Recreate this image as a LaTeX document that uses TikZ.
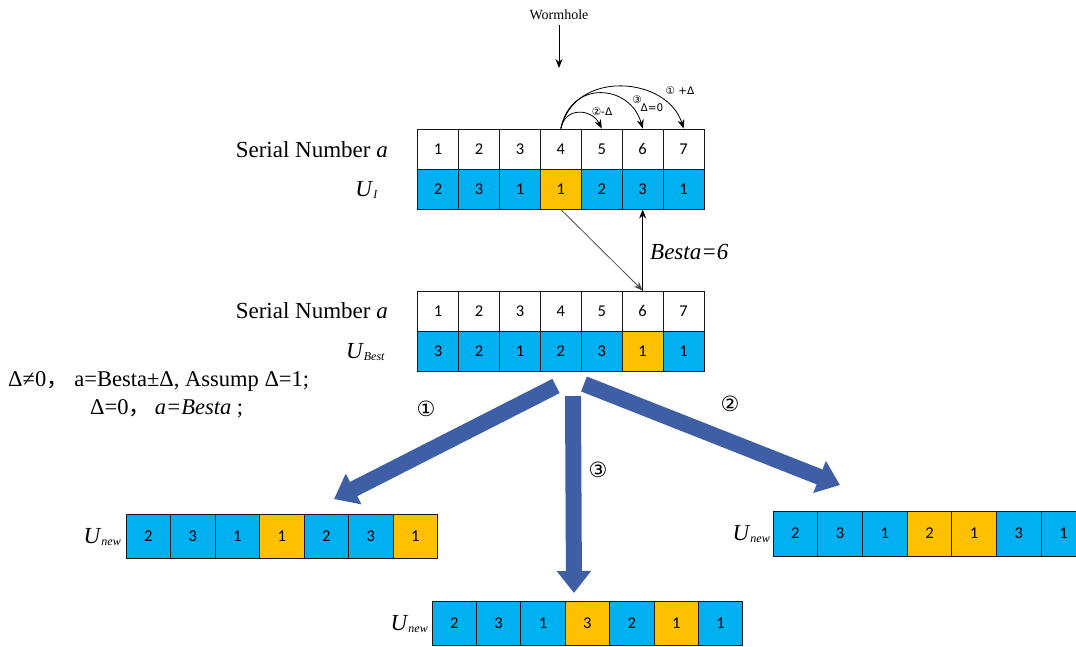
\documentclass[tikz,border=0pt]{standalone}
\usepackage{fontspec}
\setmainfont{Liberation Serif}
\newfontfamily\cellfont{Carlito}
\newfontfamily\symfont{DejaVu Sans}
\newfontfamily\cjkfont{Noto Sans CJK SC}
\usetikzlibrary{arrows.meta}
\definecolor{cellblue}{RGB}{0,176,240}
\definecolor{cellorange}{RGB}{255,192,0}
\definecolor{bigblue}{RGB}{62,95,165}
\newcommand\ulab[1]{\textit{U}\raisebox{-2pt}{\fontsize{12}{12}\selectfont\textit{#1}}}
\begin{document}
\begin{tikzpicture}[x=1pt,y=-1pt,
  cell/.style={draw=black!90, line width=0.9pt, inner sep=0pt,
    font=\cellfont\fontsize{16.5}{16.5}\selectfont},
  lab/.style={font=\fontsize{23}{25}\selectfont, inner sep=0pt},
  small/.style={font=\symfont\fontsize{10.5}{11}\selectfont, inner sep=0pt},
  circ/.style={font=\symfont\fontsize{21}{24}\selectfont, inner sep=0pt},
  thin/.style={line width=0.8pt, -{Stealth[length=9pt,width=7pt]}},
  big/.style={bigblue, line width=16pt, -{Triangle[length=22pt,width=33pt]}}]
\useasboundingbox (0,0) rectangle (1076,646);

% top table
\foreach \i in {1,...,7} {
  \node[cell, fill=white, minimum width=40.9pt, minimum height=40pt] (sa\i) at ({417.7+(\i-0.5)*40.9},149) {\i};
}
\foreach \v/\c [count=\i] in {2/cellblue,3/cellblue,1/cellblue,1/cellorange,2/cellblue,3/cellblue,1/cellblue} {
  \node[cell, fill=\c, minimum width=40.9pt, minimum height=40pt] (ua\i) at ({417.7+(\i-0.5)*40.9},189) {\v};
}
% second table
\foreach \i in {1,...,7} {
  \node[cell, fill=white, minimum width=40.9pt, minimum height=40pt] (sb\i) at ({417.7+(\i-0.5)*40.9},311) {\i};
}
\foreach \v/\c [count=\i] in {3/cellblue,2/cellblue,1/cellblue,2/cellblue,3/cellblue,1/cellorange,1/cellblue} {
  \node[cell, fill=\c, minimum width=40.9pt, minimum height=40pt] (ub\i) at ({417.7+(\i-0.5)*40.9},351) {\v};
}
% new tables
\foreach \v/\c [count=\i] in {2/cellblue,3/cellblue,1/cellblue,1/cellorange,2/cellblue,3/cellblue,1/cellorange} {
  \node[cell, fill=\c, minimum width=44.5pt, minimum height=44pt] (nl\i) at ({126+(\i-0.5)*44.5},536) {\v};
}
\foreach \v/\c [count=\i] in {2/cellblue,3/cellblue,1/cellblue,2/cellorange,1/cellorange,3/cellblue,1/cellblue} {
  \node[cell, fill=\c, minimum width=44.7pt, minimum height=45pt] (nr\i) at ({773+(\i-0.5)*44.7},533.5) {\v};
}
\foreach \v/\c [count=\i] in {2/cellblue,3/cellblue,1/cellblue,3/cellorange,2/cellblue,1/cellorange,1/cellblue} {
  \node[cell, fill=\c, minimum width=44.4pt, minimum height=44pt] (nb\i) at ({432+(\i-0.5)*44.4},623) {\v};
}

% labels
\node[lab, anchor=east] (snA) at (388,150) {Serial Number \textit{a}};
\node[lab, anchor=east] (uI) at (378,190) {\ulab{I}};
\node[lab, anchor=east] (snB) at (388,311) {Serial Number \textit{a}};
\node[lab, anchor=east] (uBest) at (385,352) {\ulab{Best}};
\node[lab, anchor=east] (uNL) at (121,537) {\ulab{new}};
\node[lab, anchor=east] (uNR) at (770,534) {\ulab{new}};
\node[lab, anchor=east] (uNB) at (428,624) {\ulab{new}};
\node[lab, anchor=west] (besta) at (650,252) {\textit{Besta=6}};

\node[font=\fontsize{22.5}{25}\selectfont, anchor=west, inner sep=0pt] (cond1) at (8,381)
  {Δ≠0{\cjkfont ，}\ a=Besta±Δ, Assump Δ=1;};
\node[font=\fontsize{22.5}{25}\selectfont, anchor=west, inner sep=0pt] (cond2) at (90,409)
  {Δ=0{\cjkfont ，}\,\textit{a=Besta} ;};

% wormhole
\node[font=\fontsize{14}{16}\selectfont, inner sep=1pt] (worm) at (559,15) {Wormhole};
\coordinate (wormtip) at (559,68);
\draw[thin] (worm.south) ++(0,4) -- (wormtip);

% small arcs
\draw[thin] (sa4.north) .. controls +(4,-22) and +(-10,-20) .. (sa5.north);
\draw[thin] (sa4.north) .. controls +(10,-50) and +(-12,-44) .. (sa6.north);
\draw[thin] (sa4.north) .. controls +(14,-60) and +(-16,-52) .. (sa7.north);
\node[small] (l2) at (602,112) {②-Δ};
\node[small] (l3a) at (637,100) {③};
\node[small] (l3b) at (652,108) {Δ=0};
\node[small] (l1) at (680,91) {① +Δ};

% connection between tables
\draw[thin, draw=black!70] (ua4.south) -- (sb6.north);
\draw[thin] (sb6.north) -- (ua6.south);

% big arrows
\coordinate (bL0) at (556,386);
\coordinate (bL1) at (334,499);
\coordinate (bV0) at (573,396);
\coordinate (bV1) at (574,593);
\coordinate (bR0) at (584,384);
\coordinate (bR1) at (840,485);
\draw[big] (bL0) -- (bL1);
\draw[big] (bV0) -- (bV1);
\draw[big] (bR0) -- (bR1);
\node[circ] (c1) at (426,409) {①};
\node[circ] (c2) at (730,404) {②};
\node[circ] (c3) at (598,470) {③};
\end{tikzpicture}
\end{document}
